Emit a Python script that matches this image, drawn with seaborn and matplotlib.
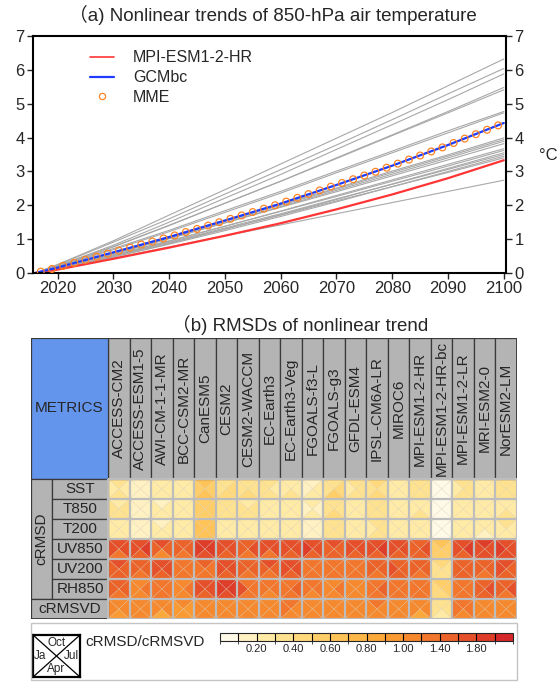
import numpy as np
import pandas as pd
import matplotlib
matplotlib.use("Agg")
import matplotlib.pyplot as plt
import seaborn as sns
from matplotlib.collections import PolyCollection
from matplotlib.colors import ListedColormap, BoundaryNorm
from matplotlib.patches import Rectangle
from matplotlib.lines import Line2D
from matplotlib.cm import ScalarMappable

sns.set_style("ticks")
plt.rcParams["font.family"] = ["Liberation Sans", "Noto Sans CJK SC", "DejaVu Sans"]

# ---------------- panel (a) data ----------------
YEARS = [2016, 2020, 2030, 2040, 2050, 2060, 2070, 2080, 2090, 2100]
GCM_TRENDS = [
    [0, 0.25, 0.95, 1.71, 2.46, 3.22, 3.98, 4.74, 5.53, 6.32],
    [0, 0.24, 0.91, 1.60, 2.33, 3.05, 3.78, 4.53, 5.29, 6.04],
    [0, 0.21, 0.82, 1.50, 2.21, 2.91, 3.65, 4.38, 5.12, 5.88],
    [0, 0.19, 0.77, 1.40, 2.06, 2.71, 3.40, 4.08, 4.77, 5.48],
    [0, 0.22, 0.78, 1.41, 2.06, 2.71, 3.38, 4.06, 4.73, 5.41],
    [0, 0.19, 0.72, 1.26, 1.84, 2.41, 3.01, 3.60, 4.20, 4.77],
    [0, 0.18, 0.69, 1.22, 1.79, 2.36, 2.96, 3.55, 4.14, 4.73],
    [0, 0.16, 0.60, 1.08, 1.56, 2.03, 2.51, 3.01, 3.49, 3.99],
    [0, 0.15, 0.58, 1.04, 1.52, 2.00, 2.48, 2.97, 3.45, 3.94],
    [0, 0.14, 0.56, 1.01, 1.48, 1.96, 2.44, 2.92, 3.40, 3.89],
    [0, 0.15, 0.57, 1.02, 1.48, 1.94, 2.40, 2.87, 3.34, 3.82],
    [0, 0.13, 0.52, 0.94, 1.38, 1.83, 2.29, 2.75, 3.21, 3.67],
    [0, 0.14, 0.53, 0.95, 1.38, 1.82, 2.26, 2.71, 3.16, 3.62],
    [0, 0.12, 0.48, 0.87, 1.29, 1.72, 2.17, 2.63, 3.09, 3.55],
    [0, 0.13, 0.51, 0.91, 1.33, 1.75, 2.19, 2.62, 3.06, 3.50],
    [0, 0.12, 0.47, 0.85, 1.25, 1.67, 2.10, 2.55, 3.00, 3.45],
    [0, 0.13, 0.50, 0.89, 1.30, 1.71, 2.13, 2.55, 2.97, 3.40],
    [0, 0.12, 0.44, 0.77, 1.10, 1.42, 1.75, 2.08, 2.41, 2.74],
]
MPI_HR = [0, 0.10, 0.42, 0.75, 1.10, 1.47, 1.88, 2.32, 2.80, 3.33]
GCMBC = [0, 0.16, 0.61, 1.06, 1.55, 2.05, 2.60, 3.17, 3.78, 4.43]
MME_YEARS = [2017, 2019, 2021, 2023, 2025, 2027, 2029, 2031, 2033, 2035, 2037,
             2039, 2041, 2043, 2045, 2047, 2049, 2051, 2053, 2055, 2057, 2059,
             2061, 2063, 2065, 2067, 2069, 2071, 2073, 2075, 2077, 2079, 2081,
             2083, 2085, 2087, 2089, 2091, 2093, 2095, 2097, 2099]
MME = [0.04, 0.12, 0.21, 0.30, 0.39, 0.48, 0.57, 0.66, 0.75, 0.84, 0.93,
       1.02, 1.11, 1.21, 1.30, 1.40, 1.50, 1.60, 1.70, 1.80, 1.90, 2.00,
       2.11, 2.22, 2.33, 2.44, 2.55, 2.66, 2.77, 2.88, 2.99, 3.11, 3.23,
       3.35, 3.47, 3.59, 3.71, 3.84, 3.97, 4.10, 4.23, 4.36]

# ---------------- panel (b) data ----------------
MODELS = ["ACCESS-CM2", "ACCESS-ESM1-5", "AWI-CM-1-1-MR", "BCC-CSM2-MR", "CanESM5",
          "CESM2", "CESM2-WACCM", "EC-Earth3", "EC-Earth3-Veg", "FGOALS-f3-L",
          "FGOALS-g3", "GFDL-ESM4", "IPSL-CM6A-LR", "MIROC6", "MPI-ESM1-2-HR",
          "MPI-ESM1-2-HR-bc", "MPI-ESM1-2-LR", "MRI-ESM2-0", "NorESM2-LM"]
METRICS = ["SST", "T850", "T200", "UV850", "UV200", "RH850", "cRMSVD"]

JAN = [
    [0.28, 0.15, 0.22, 0.24, 0.58, 0.35, 0.30, 0.30, 0.24, 0.18, 0.36, 0.28, 0.34, 0.26, 0.30, 0.06, 0.28, 0.26, 0.32],
    [0.30, 0.14, 0.20, 0.22, 0.55, 0.30, 0.30, 0.22, 0.25, 0.18, 0.30, 0.26, 0.30, 0.20, 0.24, 0.05, 0.22, 0.20, 0.26],
    [0.25, 0.12, 0.20, 0.20, 0.62, 0.20, 0.20, 0.20, 0.24, 0.14, 0.30, 0.25, 0.28, 0.20, 0.20, 0.05, 0.24, 0.20, 0.26],
    [1.70, 1.70, 1.50, 1.40, 1.90, 1.60, 1.50, 1.60, 1.60, 1.90, 1.50, 1.60, 1.70, 1.60, 1.50, 0.55, 1.60, 1.70, 1.90],
    [1.50, 1.40, 1.70, 1.20, 1.30, 1.60, 1.40, 1.50, 1.70, 1.30, 1.20, 1.30, 1.50, 1.60, 1.40, 0.35, 1.50, 1.40, 1.60],
    [1.40, 1.10, 1.30, 1.15, 1.70, 1.80, 1.70, 1.20, 1.30, 1.20, 1.10, 1.10, 1.30, 1.30, 1.20, 0.45, 1.30, 1.50, 1.40],
    [1.10, 1.10, 1.00, 0.95, 1.10, 1.10, 1.10, 1.10, 1.20, 1.10, 1.05, 1.10, 1.15, 1.10, 1.00, 0.30, 1.20, 1.10, 1.15],
]
APR = [
    [0.32, 0.18, 0.24, 0.28, 0.62, 0.45, 0.45, 0.34, 0.30, 0.22, 0.52, 0.34, 0.46, 0.28, 0.38, 0.07, 0.34, 0.28, 0.34],
    [0.34, 0.16, 0.22, 0.22, 0.58, 0.34, 0.32, 0.24, 0.28, 0.20, 0.42, 0.26, 0.36, 0.22, 0.36, 0.06, 0.24, 0.22, 0.30],
    [0.28, 0.12, 0.20, 0.20, 0.62, 0.22, 0.22, 0.20, 0.26, 0.15, 0.32, 0.26, 0.30, 0.22, 0.22, 0.05, 0.26, 0.18, 0.26],
    [1.30, 1.50, 1.10, 1.30, 1.60, 1.50, 1.30, 1.30, 1.40, 1.50, 1.40, 1.50, 1.50, 1.50, 1.40, 0.50, 1.40, 1.60, 1.60],
    [1.40, 1.30, 1.40, 1.20, 1.20, 1.40, 1.30, 1.30, 1.40, 1.20, 1.20, 1.20, 1.30, 1.40, 1.30, 0.35, 1.40, 1.30, 1.40],
    [1.30, 1.10, 1.20, 1.10, 1.50, 1.60, 1.30, 1.10, 1.20, 1.10, 1.05, 1.05, 1.20, 1.20, 1.20, 0.40, 1.20, 1.40, 1.30],
    [0.90, 1.00, 0.80, 0.90, 1.00, 1.05, 1.00, 1.00, 1.10, 1.00, 1.00, 1.00, 1.10, 1.00, 0.85, 0.25, 1.10, 1.05, 1.10],
]
JUL = [
    [0.26, 0.14, 0.20, 0.25, 0.55, 0.42, 0.34, 0.28, 0.25, 0.20, 0.40, 0.30, 0.38, 0.24, 0.32, 0.05, 0.30, 0.24, 0.30],
    [0.30, 0.14, 0.20, 0.20, 0.56, 0.32, 0.30, 0.20, 0.26, 0.18, 0.32, 0.24, 0.32, 0.20, 0.26, 0.05, 0.20, 0.20, 0.28],
    [0.26, 0.11, 0.20, 0.20, 0.60, 0.20, 0.20, 0.20, 0.26, 0.15, 0.36, 0.25, 0.30, 0.20, 0.20, 0.04, 0.26, 0.20, 0.28],
    [1.60, 1.80, 1.50, 1.40, 1.80, 1.70, 1.60, 1.60, 1.60, 1.70, 1.50, 1.60, 1.80, 1.60, 1.60, 0.55, 1.80, 1.70, 1.70],
    [1.50, 1.40, 1.70, 1.20, 1.30, 1.60, 1.40, 1.50, 1.60, 1.20, 1.20, 1.30, 1.50, 1.50, 1.50, 0.38, 1.50, 1.40, 1.50],
    [1.50, 1.20, 1.30, 1.20, 1.60, 1.80, 1.30, 1.20, 1.40, 1.20, 1.20, 1.10, 1.40, 1.30, 1.30, 0.55, 1.30, 1.60, 1.60],
    [1.10, 1.10, 1.05, 0.95, 1.10, 1.10, 1.10, 1.10, 1.15, 1.10, 1.05, 1.10, 1.15, 1.10, 1.00, 0.30, 1.20, 1.10, 1.15],
]
OCT = [
    [0.30, 0.16, 0.20, 0.26, 0.60, 0.36, 0.30, 0.32, 0.28, 0.18, 0.36, 0.30, 0.40, 0.25, 0.30, 0.04, 0.32, 0.25, 0.36],
    [0.28, 0.15, 0.18, 0.20, 0.50, 0.30, 0.28, 0.20, 0.24, 0.20, 0.30, 0.25, 0.30, 0.22, 0.24, 0.04, 0.20, 0.20, 0.26],
    [0.25, 0.12, 0.18, 0.20, 0.60, 0.20, 0.20, 0.20, 0.25, 0.16, 0.30, 0.25, 0.30, 0.20, 0.20, 0.05, 0.25, 0.20, 0.36],
    [1.60, 1.70, 1.60, 1.50, 1.80, 1.60, 1.50, 1.60, 1.70, 1.70, 1.60, 1.70, 1.70, 1.60, 1.50, 0.60, 1.60, 1.80, 1.70],
    [1.60, 1.50, 1.60, 1.30, 1.40, 1.60, 1.40, 1.60, 1.70, 1.30, 1.30, 1.30, 1.40, 1.50, 1.40, 0.40, 1.50, 1.50, 1.60],
    [1.40, 1.10, 1.30, 1.10, 1.60, 1.80, 1.30, 1.20, 1.30, 1.20, 1.10, 1.10, 1.30, 1.30, 1.20, 0.55, 1.30, 1.50, 1.40],
    [1.10, 1.10, 1.00, 1.00, 1.10, 1.10, 1.10, 1.10, 1.20, 1.10, 1.05, 1.10, 1.20, 1.10, 1.00, 0.30, 1.20, 1.10, 1.15],
]

LEVELS = [0.1, 0.2, 0.3, 0.4, 0.5, 0.6, 0.7, 0.8, 0.9, 1.0, 1.2, 1.4, 1.6, 1.8, 2.0]
CB_TICKS = [0.2, 0.4, 0.6, 0.8, 1.0, 1.4, 1.8]
CB_COLORS = ["#FFF9E8", "#FFF1C2", "#FFEAA6", "#FFE290", "#FFD97C", "#FFCE69",
             "#FFC358", "#FEB748", "#FCA93B", "#F99A32", "#F6892D", "#F2762B",
             "#EC632A", "#E5502A", "#DE3D2A", "#D5282A"]

# ---------------- figure ----------------
W, H = 557, 682
fig = plt.figure(figsize=(W / 100, H / 100), dpi=100)


def fr(x0, y0, x1, y1):
    return [x0 / W, 1 - y1 / H, (x1 - x0) / W, (y1 - y0) / H]


# ----- panel (a) -----
ax = fig.add_axes(fr(33, 36, 506, 273))
rows = []
for k, vals in enumerate(GCM_TRENDS):
    for yr, v in zip(YEARS, vals):
        rows.append((f"m{k}", yr, v))
gdf = pd.DataFrame(rows, columns=["model", "year", "value"])
sns.lineplot(data=gdf, x="year", y="value", units="model", estimator=None,
             color="#A8A8A8", lw=0.8, ax=ax, legend=False)
sns.lineplot(x=YEARS, y=MPI_HR, color="#FF3535", lw=1.6, ax=ax)
sns.lineplot(x=YEARS, y=GCMBC, color="#1E3CFF", lw=1.6, ax=ax)
sns.scatterplot(x=MME_YEARS, y=MME, marker="o", s=24, facecolor="none",
                edgecolor="#FF8424", linewidth=0.9, ax=ax, zorder=4)

ax.set_xlim(2015.6, 2100.4)
ax.set_ylim(0, 7)
ax.set_xticks(range(2020, 2101, 10))
ax.set_yticks(range(0, 8))
ax.set_xlabel("")
ax.set_ylabel("")
ax.tick_params(axis="both", which="both", labelsize=12, direction="out",
               length=4, width=1, pad=2)
ax.tick_params(axis="y", right=True, labelright=True)
for sp in ax.spines.values():
    sp.set_linewidth(1.5)
    sp.set_color("black")
    sp.set_visible(True)

handles = [Line2D([], [], color="#FF3535", lw=1.2),
           Line2D([], [], color="#1E3CFF", lw=1.6),
           Line2D([], [], color="#FF8424", marker="o", ls="none", ms=4.5,
                  mfc="none", mew=0.9)]
ax.legend(handles, ["MPI-ESM1-2-HR", "GCMbc", "MME"], loc="upper left",
          bbox_to_anchor=(0.09, 1.0), frameon=False, fontsize=11.5,
          handlelength=1.5, labelspacing=0.3, handletextpad=1.2)

fig.text(273 / W, 1 - 15 / H, "（a) Nonlinear trends of 850-hPa air temperature",
         ha="center", va="center", fontsize=13.5)
fig.text(548 / W, 1 - 155 / H, "°C", ha="center", va="center", fontsize=12)

# ----- panel (b) -----
NC, NR = len(MODELS), len(METRICS)
LW = 77 / 21.5
HH = 141 / 20
CW = 21 / 21.5
cmap = ListedColormap(CB_COLORS)
bounds = [0.0] + LEVELS + [10.0]
norm = BoundaryNorm(bounds, cmap.N)

tab = fig.add_axes(fr(31, 338, 517, 619))
tab.set_xlim(-LW, NC)
tab.set_ylim(NR, -HH)
tab.axis("off")

polys, vals = [], []
for i in range(NR):
    for j in range(NC):
        tl, tr, br, bl = (j, i), (j + 1, i), (j + 1, i + 1), (j, i + 1)
        c = (j + 0.5, i + 0.5)
        polys += [[tl, tr, c], [tl, bl, c], [tr, br, c], [bl, br, c]]
        vals += [OCT[i][j], JAN[i][j], JUL[i][j], APR[i][j]]
pc = PolyCollection(polys, array=np.array(vals), cmap=cmap, norm=norm,
                    edgecolors=(0.82, 0.78, 0.70, 0.45), linewidths=0.35)
tab.add_collection(pc)

for j in range(NC + 1):
    tab.plot([j, j], [0, NR], color="#BDBDBD", lw=1.6, solid_capstyle="butt")
for i in range(NR + 1):
    tab.plot([0, NC], [i, i], color="#BDBDBD", lw=1.6, solid_capstyle="butt")

EC = "#3A3A3A"
for j, name in enumerate(MODELS):
    tab.add_patch(Rectangle((j, -HH), 1, HH, fc="#B4B4B4", ec=EC, lw=0.9))
    tab.text(j + 0.5, -HH / 2, name, rotation=90, ha="center", va="center",
             fontsize=11)
tab.add_patch(Rectangle((-LW, -HH), LW, HH, fc="#6495ED", ec=EC, lw=0.9))
tab.text(-LW / 2, -HH / 2, "METRICS", ha="center", va="center", fontsize=11)

tab.add_patch(Rectangle((-LW, 0), CW, NR - 1, fc="#B4B4B4", ec=EC, lw=0.9))
tab.text(-LW + CW / 2, (NR - 1) / 2, "cRMSD", rotation=90, ha="center",
         va="center", fontsize=11)
for i, m in enumerate(METRICS[:-1]):
    tab.add_patch(Rectangle((-LW + CW, i), LW - CW, 1, fc="#B4B4B4", ec=EC, lw=0.9))
    tab.text(-LW + CW + (LW - CW) / 2, i + 0.5, m, ha="center", va="center",
             fontsize=11)
tab.add_patch(Rectangle((-LW, NR - 1), LW, 1, fc="#B4B4B4", ec=EC, lw=0.9))
tab.text(-LW / 2, NR - 0.5, METRICS[-1], ha="center", va="center", fontsize=11)
tab.add_patch(Rectangle((-LW, -HH), LW + NC, HH + NR, fill=False, ec=EC, lw=1.3))

fig.text(300 / W, 1 - 325 / H, "（b) RMSDs of nonlinear trend", ha="center",
         va="center", fontsize=13.5)

# ----- legend box -----
fig.patches.append(Rectangle((31 / W, 1 - 680 / H), 486 / W, 57 / H,
                             transform=fig.transFigure, fill=False,
                             ec="#C4C4C4", lw=1.0))
kx = fig.add_axes(fr(33, 635, 80, 677))
kx.set_xlim(0, 1)
kx.set_ylim(0, 1)
kx.plot([0, 1], [0, 1], color="black", lw=0.9)
kx.plot([0, 1], [1, 0], color="black", lw=0.9)
kx.set_xticks([])
kx.set_yticks([])
for sp in kx.spines.values():
    sp.set_linewidth(1.6)
    sp.set_color("black")
kx.text(0.5, 0.80, "Oct", ha="center", va="center", fontsize=8.5)
kx.text(0.02, 0.5, "Ja", ha="left", va="center", fontsize=8.5)
kx.text(0.98, 0.5, "Jul", ha="right", va="center", fontsize=8.5)
kx.text(0.5, 0.18, "Apr", ha="center", va="center", fontsize=8.5)
fig.text(85 / W, 1 - 642 / H, "cRMSD/cRMSVD", ha="left", va="center", fontsize=11)

cax = fig.add_axes(fr(220, 633, 513, 641))
sm = ScalarMappable(norm=norm, cmap=cmap)
cb = fig.colorbar(sm, cax=cax, orientation="horizontal", boundaries=bounds,
                  spacing="uniform", drawedges=True, ticks=CB_TICKS)
cb.ax.set_xticklabels([f"{t:.2f}" for t in CB_TICKS])
cb.ax.tick_params(length=0, labelsize=8, pad=2)
cb.outline.set_linewidth(0.8)
cb.dividers.set_linewidth(0.8)
cb.dividers.set_color("black")

fig.savefig("out.png", dpi=100)
